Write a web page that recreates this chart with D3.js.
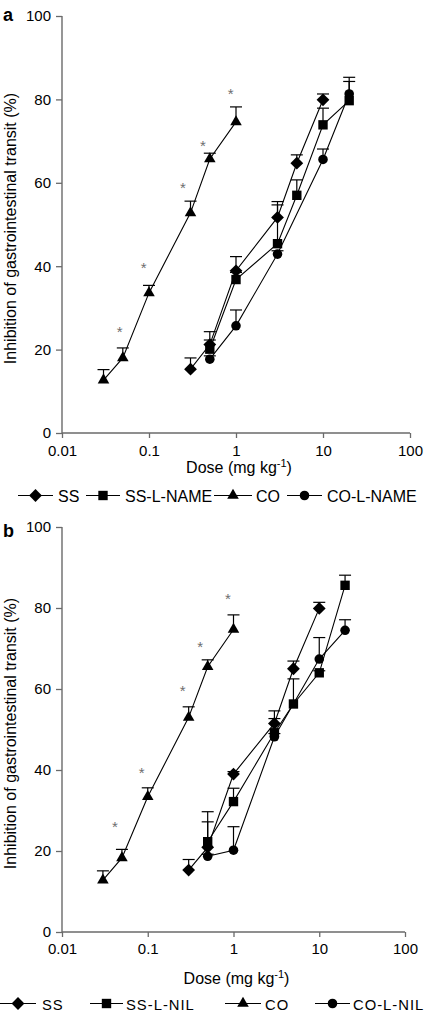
<!DOCTYPE html>
<html><head><meta charset="utf-8">
<script src="https://cdn.jsdelivr.net/npm/d3@7/dist/d3.min.js"></script>
<style>
html,body{margin:0;padding:0;background:#fff;}
svg{display:block;font-family:"Liberation Sans",Arial,Helvetica,sans-serif;}
</style></head>
<body>
<svg id="chart" width="428" height="1014"></svg>
<script>
// ---------- DATA ----------
const xTicks = [0.01, 0.1, 1, 10, 100];
const xTickLabels = ["0.01", "0.1", "1", "10", "100"];
const yTicks = [0, 20, 40, 60, 80, 100];

// Panel a
const aSSDose = [0.3, 0.5, 1, 3, 5, 10];
const aSSMean = [15.3, 21.2, 38.9, 51.7, 64.7, 79.9];
const aSSSem  = [2.7, 3.1, 3.4, 3.8, 2.0, 1.4];
const aSSLDose = [0.5, 1, 3, 5, 10, 20];
const aSSLMean = [20.1, 36.8, 45.4, 57.0, 73.9, 79.7];
const aSSLSem  = [2.2, 1.7, 9.3, 3.7, 4.0, 4.6];
const aCODose = [0.03, 0.05, 0.1, 0.3, 0.5, 1];
const aCOMean = [12.7, 18.0, 33.6, 52.8, 65.7, 74.6];
const aCOSem  = [2.5, 2.4, 1.8, 2.8, 1.4, 3.6];
const aCOLDose = [0.5, 1, 3, 10, 20];
const aCOLMean = [17.7, 25.7, 42.9, 65.6, 81.3];
const aCOLSem  = [0.8, 3.8, 0.8, 2.5, 4.0];
const aStarDose = [0.046, 0.087, 0.246, 0.418, 0.869];
const aStarY    = [25.0, 40.3, 59.5, 69.5, 82.0];
const aLegend = ["SS", "SS-L-NAME", "CO", "CO-L-NAME"];

// Panel b
const bSSDose = [0.3, 0.5, 1, 3, 5, 10];
const bSSMean = [15.3, 20.9, 39.0, 51.5, 65.0, 79.9];
const bSSSem  = [2.6, 6.3, 0.6, 3.1, 1.9, 1.5];
const bSSLDose = [0.5, 1, 3, 5, 10, 20];
const bSSLMean = [22.3, 32.2, 49.2, 56.3, 64.0, 85.6];
const bSSLSem  = [7.4, 3.3, 3.5, 6.2, 0.5, 2.5];
const bCODose = [0.03, 0.05, 0.1, 0.3, 0.5, 1];
const bCOMean = [12.8, 18.3, 33.4, 53.0, 65.5, 74.7];
const bCOSem  = [2.3, 2.1, 2.2, 2.6, 1.7, 3.6];
const bCOLDose = [0.5, 1, 3, 10, 20];
const bCOLMean = [18.7, 20.2, 48.2, 67.4, 74.5];
const bCOLSem  = [0.5, 5.8, 0.8, 5.3, 2.6];
const bStarDose = [0.0415, 0.085, 0.256, 0.41, 0.863];
const bStarY    = [26.7, 40.0, 60.3, 71.0, 83.0];
const bLegend = ["SS", "SS-L-NIL", "CO", "CO-L-NIL"];

const yTitle = "Inhibition of gastrointestinal transit (%)";

// ---------- SYMBOLS ----------
const symDiamond = {draw(ctx, size){const r=Math.sqrt(size/2);ctx.moveTo(0,-r);ctx.lineTo(r,0);ctx.lineTo(0,r);ctx.lineTo(-r,0);ctx.closePath();}};
const symbols = [
  d3.symbol().type(symDiamond).size(82),
  d3.symbol().type(d3.symbolSquare).size(88),
  d3.symbol().type(d3.symbolTriangle).size(58),
  d3.symbol().type(d3.symbolCircle).size(72)
];

const svg = d3.select("#chart");
const AX = "#6a6a6a";

function zip(d, m, s){ return d.map((v,i)=>({dose:v, mean:m[i], sem:s[i]})); }

function drawPanel(cfg){
  const g = svg.append("g");
  const x = d3.scaleLog().domain([0.01, 100]).range([cfg.left, cfg.right]);
  const y = d3.scaleLinear().domain([0, 100]).range([cfg.bottom, cfg.top]);

  // axes
  const yAxis = d3.axisLeft(y).tickValues(yTicks).tickSize(6).tickPadding(5).tickFormat(d3.format("d"));
  const ya = g.append("g").attr("transform", `translate(${cfg.left},0)`).call(yAxis);
  const xAxis = d3.axisBottom(x).tickValues(xTicks).tickSize(5).tickPadding(cfg.xPad).tickFormat((d,i)=>xTickLabels[i]);
  const xa = g.append("g").attr("transform", `translate(0,${cfg.bottom})`).call(xAxis);
  [ya, xa].forEach(a=>{
    a.selectAll(".tick line").attr("stroke", AX).attr("stroke-width", 1.3);
    a.selectAll(".tick text").attr("fill", "#000").style("font-size", "15px").style("font-family", '"Liberation Sans",Arial,sans-serif');
  });
  ya.select(".domain").attr("stroke", AX).attr("stroke-width", 1.4).attr("d", `M0,${cfg.top}V${cfg.bottom}`);
  xa.select(".domain").attr("stroke", AX).attr("stroke-width", 1.4).attr("d", `M${cfg.left},0H${cfg.right}`);

  // titles
  g.append("text").attr("x", (cfg.left + cfg.right)/2 + 3).attr("y", cfg.xTitleY)
    .attr("text-anchor", "middle").style("font-size", "16px")
    .call(t=>{ t.append("tspan").text("Dose (mg kg");
               t.append("tspan").attr("dy", -6).style("font-size", "11px").text("-1");
               t.append("tspan").attr("dy", 6).text(")"); });
  g.append("text").attr("transform", `translate(${cfg.yTitleX},${(cfg.top+cfg.bottom)/2 + 4}) rotate(-90)`)
    .attr("text-anchor", "middle").style("font-size", "16px").text(yTitle);
  g.append("text").attr("x", 3).attr("y", cfg.labelY).style("font-size", "18px").style("font-weight", "bold").text(cfg.label);

  const line = d3.line().x(d=>x(d.dose)).y(d=>y(d.mean));
  cfg.series.forEach((s)=>{
    g.append("path").datum(s).attr("d", line).attr("fill", "none").attr("stroke", "#000").attr("stroke-width", 1.1);
  });
  cfg.series.forEach((s)=>{
    const eb = g.append("g");
    eb.selectAll("line.v").data(s).join("line")
      .attr("x1", d=>x(d.dose)).attr("x2", d=>x(d.dose))
      .attr("y1", d=>y(d.mean)).attr("y2", d=>y(d.mean + d.sem))
      .attr("stroke", "#000").attr("stroke-width", 1.2);
    eb.selectAll("line.c").data(s).join("line")
      .attr("x1", d=>x(d.dose)-6).attr("x2", d=>x(d.dose)+6)
      .attr("y1", d=>y(d.mean + d.sem)).attr("y2", d=>y(d.mean + d.sem))
      .attr("stroke", "#000").attr("stroke-width", 1.2);
  });
  cfg.series.forEach((s, si)=>{
    g.append("g").selectAll("path").data(s).join("path")
      .attr("transform", d=>`translate(${x(d.dose)},${y(d.mean)})`)
      .attr("d", symbols[si]()).attr("fill", "#000");
  });
  // asterisks
  g.append("g").selectAll("text").data(cfg.starDose).join("text")
    .attr("x", d=>x(d)).attr("y", (d,i)=>y(cfg.starY[i]) + 8)
    .attr("text-anchor", "middle").style("font-size", "15px").attr("fill", "#6e6e6e").text("*");

  // legend
  const lg = g.append("g").attr("transform", `translate(0,${cfg.legendY})`);
  cfg.legend.forEach((name, i)=>{
    const it = cfg.legendItems[i];
    lg.append("line").attr("x1", it[0]).attr("x2", it[1]).attr("y1", 0).attr("y2", 0).attr("stroke", "#000").attr("stroke-width", 1.1);
    lg.append("path").attr("transform", `translate(${(it[0]+it[1])/2},0)`).attr("d", symbols[i]()).attr("fill", "#000");
    lg.append("text").attr("x", it[2]).attr("y", 6).style("font-size", cfg.legendFont)
      .style("letter-spacing", cfg.legendSpacing).text(name);
  });
}

drawPanel({
  label: "a", labelY: 21, left: 62, right: 410, top: 16, bottom: 433, xPad: 7,
  xTitleY: 473, yTitleX: 16, legendY: 495.5, legendFont: "16px", legendSpacing: "0px",
  legendItems: [[18,53,58],[86,120,125],[214,252,256],[287,322,327]],
  series: [zip(aSSDose,aSSMean,aSSSem), zip(aSSLDose,aSSLMean,aSSLSem), zip(aCODose,aCOMean,aCOSem), zip(aCOLDose,aCOLMean,aCOLSem)],
  starDose: aStarDose, starY: aStarY, legend: aLegend
});
drawPanel({
  label: "b", labelY: 537, left: 62, right: 405, top: 527, bottom: 932, xPad: 6,
  xTitleY: 984, yTitleX: 16, legendY: 1003.5, legendFont: "14.8px", legendSpacing: "1px",
  legendItems: [[0,36,42],[90,123,126],[225,261,265],[315,350,353]],
  series: [zip(bSSDose,bSSMean,bSSSem), zip(bSSLDose,bSSLMean,bSSLSem), zip(bCODose,bCOMean,bCOSem), zip(bCOLDose,bCOLMean,bCOLSem)],
  starDose: bStarDose, starY: bStarY, legend: bLegend
});
</script>
</body></html>
